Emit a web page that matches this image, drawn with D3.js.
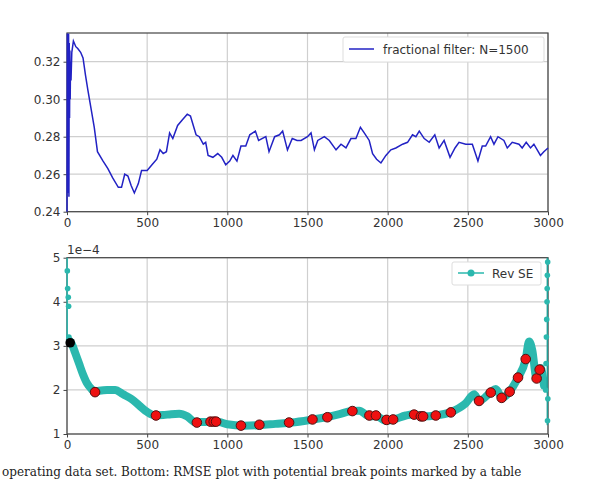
<!DOCTYPE html>
<html><head><meta charset="utf-8">
<script src="https://cdn.jsdelivr.net/npm/d3@7"></script>
<style>body{margin:0;background:#fff}text{font-family:"DejaVu Sans",sans-serif}</style>
</head><body><svg id="c" width="590" height="480"></svg>
<script>
const xTicks=[0,500,1000,1500,2000,2500,3000];
const topTicks=[0.24,0.26,0.28,0.30,0.32];
const botTicks=[1,2,3,4,5];
const topLabel="fractional filter: N=1500";
const botLabel="Rev SE";
const filterX=[0,2,4,6,8,10,12,14,16,18,20,22,25,30,40,55,67,85,100,115,130,150,170,190,225,255,285,320,340,360,380,400,420,445,465,500,530,560,580,600,620,640,660,690,720,750,770,805,825,850,865,880,910,940,965,990,1015,1035,1060,1085,1115,1140,1175,1195,1240,1260,1295,1325,1345,1375,1405,1435,1460,1500,1522,1543,1564,1605,1636,1678,1709,1740,1771,1802,1830,1854,1885,1906,1931,1958,1989,2020,2051,2093,2124,2155,2176,2197,2228,2259,2294,2321,2352,2389,2420,2445,2487,2528,2563,2590,2611,2642,2663,2688,2725,2746,2777,2819,2839,2864,2891,2912,2953,2974,3000];
const filterY=[0.24,0.335,0.25,0.33,0.26,0.335,0.248,0.33,0.29,0.326,0.30,0.32,0.31,0.325,0.331,0.328,0.327,0.325,0.322,0.313,0.305,0.295,0.285,0.272,0.267,0.263,0.258,0.253,0.253,0.260,0.259,0.254,0.250,0.255,0.262,0.262,0.265,0.268,0.273,0.271,0.272,0.282,0.279,0.286,0.289,0.292,0.291,0.281,0.280,0.276,0.277,0.270,0.269,0.271,0.269,0.265,0.267,0.270,0.267,0.275,0.275,0.281,0.283,0.278,0.280,0.272,0.280,0.281,0.283,0.273,0.279,0.278,0.278,0.280,0.282,0.273,0.278,0.280,0.278,0.273,0.276,0.274,0.279,0.279,0.285,0.282,0.278,0.271,0.268,0.266,0.270,0.273,0.274,0.276,0.277,0.281,0.280,0.283,0.279,0.277,0.281,0.274,0.278,0.269,0.274,0.277,0.276,0.276,0.267,0.275,0.275,0.280,0.276,0.280,0.278,0.274,0.277,0.276,0.274,0.277,0.274,0.276,0.270,0.272,0.274];
// main RMSE curve (units of 1e-4)
const seX=[20,35,50,75,100,125,150,175,200,250,300,350,400,450,500,550,600,650,700,750,800,850,900,950,1000,1100,1200,1300,1400,1533,1616,1700,1771,1823,1886,1927,1989,2031,2113,2165,2217,2300,2394,2487,2539,2570,2643,2674,2715,2757,2809,2861,2882,2902,2927,2954,2975];
const seY=[3.1,3.0,2.85,2.6,2.35,2.15,2.03,1.96,1.98,2.0,2.0,1.9,1.8,1.65,1.5,1.42,1.43,1.45,1.46,1.4,1.27,1.27,1.28,1.27,1.22,1.19,1.2,1.23,1.26,1.33,1.38,1.45,1.52,1.53,1.4,1.41,1.3,1.32,1.42,1.45,1.4,1.42,1.5,1.7,1.9,1.75,1.95,2.02,1.82,1.95,2.25,2.7,3.1,2.9,2.3,2.5,2.1];
// scattered edge points
const edgeX=[2,4,8,10,12,15,2985,2988,2990,2992,2994,2995,2996,2997,2998,2999];
const edgeY=[4.7,4.3,4.1,3.9,3.2,3.15,2.0,2.6,3.2,3.6,4.0,4.3,4.6,1.3,4.9,1.8];
const breakX=[175,555,810,895,915,930,1085,1200,1385,1531,1624,1780,1886,1927,1993,2034,2165,2207,2221,2300,2394,2570,2643,2711,2761,2813,2861,2929,2948];
const breakY=[1.95,1.42,1.26,1.28,1.28,1.28,1.19,1.21,1.26,1.33,1.38,1.52,1.42,1.42,1.32,1.33,1.44,1.4,1.4,1.42,1.49,1.75,1.94,1.82,1.96,2.28,2.7,2.26,2.46];
const startX=[20], startY=[3.07];

const svg=d3.select("#c");
const L=67,R=548;
const x=d3.scaleLinear().domain([0,3000]).range([L,R]);
const yT=d3.scaleLinear().domain([0.24,0.3353]).range([211.7,33]);
const yB=d3.scaleLinear().domain([1,5]).range([434,257.7]);

function frame(y,ticks,fmt,top,bot){
  const g=svg.append("g");
  g.selectAll(".gx").data(xTicks).join("line").attr("x1",d=>x(d)).attr("x2",d=>x(d)).attr("y1",top).attr("y2",bot).attr("stroke","#cfcfcf").attr("stroke-width",1.2);
  g.selectAll(".gy").data(ticks).join("line").attr("x1",L).attr("x2",R).attr("y1",d=>y(d)).attr("y2",d=>y(d)).attr("stroke","#cfcfcf").attr("stroke-width",1.2);
  const ax=svg.append("g").attr("transform",`translate(0,${bot})`).call(d3.axisBottom(x).tickValues(xTicks).tickFormat(d3.format("d")).tickSize(3.5).tickPadding(3));
  const ay=svg.append("g").attr("transform",`translate(${L},0)`).call(d3.axisLeft(y).tickValues(ticks).tickFormat(fmt).tickSize(3.5).tickPadding(3));
  [ax,ay].forEach(a=>{a.select(".domain").remove();a.selectAll("text").attr("font-size",12).attr("fill","#333").style("font-family","DejaVu Sans");a.selectAll("line").attr("stroke","#444");});
  svg.append("rect").attr("x",L).attr("y",top).attr("width",R-L).attr("height",bot-top).attr("fill","none").attr("stroke","#444").attr("stroke-width",1.2);
}
frame(yT,topTicks,d3.format(".2f"),33,211.7);
frame(yB,botTicks,d3.format("d"),257.7,434);

svg.append("path").datum(filterX.map((v,i)=>[v,filterY[i]])).attr("fill","none").attr("stroke","#2222c4").attr("stroke-width",1.5)
  .attr("d",d3.line().x(d=>x(d[0])).y(d=>yT(Math.min(d[1],0.3353))));
svg.append("rect").attr("x",343).attr("y",37).attr("width",201).attr("height",25).attr("fill","#fff").attr("stroke","#ddd").attr("rx",2);
svg.append("line").attr("x1",349).attr("x2",374).attr("y1",49).attr("y2",49).attr("stroke","#2222c4").attr("stroke-width",1.5);
svg.append("text").attr("x",383).attr("y",54).attr("font-size",12).attr("fill","#333").text(topLabel);

const teal="#2bb8ae";
const seData=seX.map((v,i)=>[v,seY[i]]);
svg.append("path").datum(seData).attr("fill","none").attr("stroke",teal).attr("stroke-width",8).attr("stroke-linejoin","round").attr("stroke-linecap","round")
  .attr("d",d3.line().x(d=>x(d[0])).y(d=>yB(d[1])).curve(d3.curveMonotoneX));
svg.append("line").attr("x1",x(1)).attr("x2",x(1)).attr("y1",yB(5)).attr("y2",yB(3.1)).attr("stroke",teal).attr("stroke-width",1.5);
svg.append("line").attr("x1",x(2996)).attr("x2",x(2996)).attr("y1",yB(5)).attr("y2",yB(1.2)).attr("stroke","#1f9e96").attr("stroke-width",1.5);
svg.selectAll(".ed").data(edgeX.map((v,i)=>[v,edgeY[i]])).join("circle").attr("cx",d=>x(d[0])).attr("cy",d=>yB(d[1])).attr("r",2.8).attr("fill",teal);
svg.selectAll(".bp").data(breakX.map((v,i)=>[v,breakY[i]])).join("circle").attr("cx",d=>x(d[0])).attr("cy",d=>yB(d[1])).attr("r",4.8).attr("fill","#ee1111").attr("stroke","#551111").attr("stroke-width",1);
svg.selectAll(".st").data(startX.map((v,i)=>[v,startY[i]])).join("circle").attr("cx",d=>x(d[0])).attr("cy",d=>yB(d[1])).attr("r",4.8).attr("fill","#000");
svg.append("text").attr("x",L).attr("y",254).attr("font-size",12).attr("fill","#333").text("1e\u22124");
svg.append("rect").attr("x",452).attr("y",262).attr("width",89).attr("height",23).attr("fill","#fff").attr("stroke","#ddd").attr("rx",2);
svg.append("line").attr("x1",458).attr("x2",484).attr("y1",273).attr("y2",273).attr("stroke",teal).attr("stroke-width",1.5);
svg.append("circle").attr("cx",471).attr("cy",273).attr("r",3.5).attr("fill",teal);
svg.append("text").attr("x",492).attr("y",278).attr("font-size",12).attr("fill","#333").text(botLabel);
svg.append("text").attr("x",2).attr("y",476).attr("font-size",12).attr("fill","#222").style("font-family","DejaVu Serif")
  .text("operating data set. Bottom: RMSE plot with potential break points marked by a table");
</script></body></html>
